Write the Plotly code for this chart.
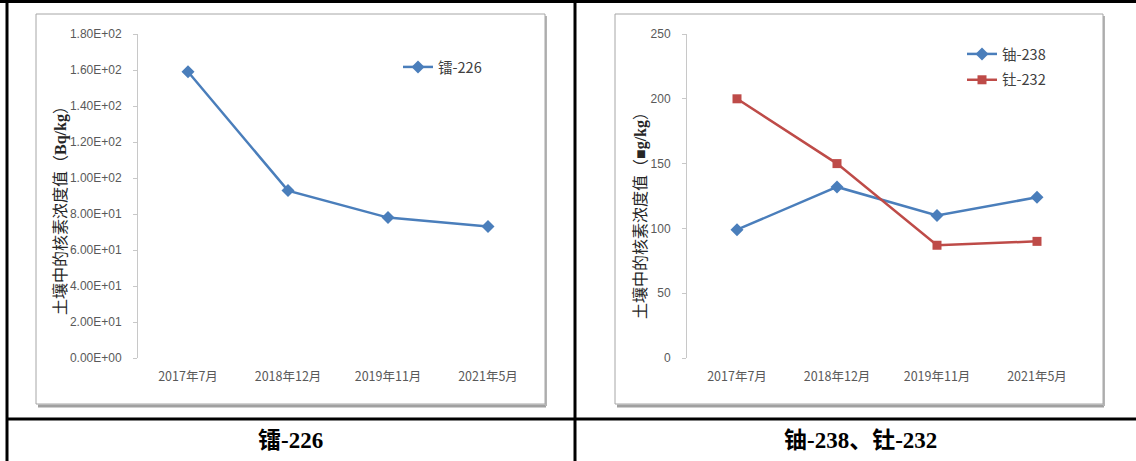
import plotly.graph_objects as go

W, H = 1136, 461

# ---- data ----
categories = ["2017年7月", "2018年12月", "2019年11月", "2021年5月"]
ra226 = [159, 93, 78, 73]
u238 = [99, 132, 110, 124]
th232 = [200, 150, 87, 90]
left_ticks = [0, 20, 40, 60, 80, 100, 120, 140, 160, 180]
left_ticktext = [f"{v:.2E}" for v in left_ticks]
right_ticks = [0, 50, 100, 150, 200, 250]

BLUE = "#4A7EBB"
RED = "#BE4B48"
TICKCOL = "#595959"


def px(x):
    return x / W


def py(y):
    return 1 - y / H


fig = go.Figure()

fig.add_trace(go.Scatter(
    x=categories, y=ra226, name="镭-226", mode="lines+markers", showlegend=True,
    line=dict(color=BLUE, width=2.5),
    marker=dict(symbol="diamond", size=10, color=BLUE),
    xaxis="x", yaxis="y", legend="legend", legendgroup="ra"))

fig.add_trace(go.Scatter(
    x=categories, y=u238, name="铀-238", mode="lines+markers", showlegend=True,
    line=dict(color=BLUE, width=2.5),
    marker=dict(symbol="diamond", size=10, color=BLUE),
    xaxis="x2", yaxis="y2", legend="legend2", legendgroup="u"))

fig.add_trace(go.Scatter(
    x=categories, y=th232, name="钍-232", mode="lines+markers", showlegend=True,
    line=dict(color=RED, width=2.5),
    marker=dict(symbol="square", size=9, color=RED),
    xaxis="x2", yaxis="y2", legend="legend2", legendgroup="th"))

tickfont = dict(family="Liberation Sans, Noto Sans CJK SC", size=12, color=TICKCOL)
xtickfont = dict(family="Noto Sans CJK SC", size=12.5, color=TICKCOL)

yaxis_common = dict(showgrid=False, zeroline=False, showline=True, linecolor="#c8c8c8",
                    linewidth=1, ticks="outside", ticklen=4, tickcolor="#c8c8c8",
                    tickfont=tickfont, ticklabelstandoff=9, fixedrange=True, automargin=False)
xaxis_common = dict(showgrid=False, zeroline=False, showline=False, ticks="",
                    tickfont=xtickfont, type="category", range=[-0.5, 3.5],
                    categoryorder="array", categoryarray=categories, fixedrange=True,
                    automargin=False, ticklabelstandoff=9)

legfont = dict(family="Noto Sans CJK SC", size=14.5, color="#404040")

fig.update_layout(
    width=W, height=H,
    showlegend=True,
    margin=dict(l=0, r=0, t=0, b=0, pad=0, autoexpand=False),
    paper_bgcolor="white", plot_bgcolor="white",
    xaxis=dict(domain=[px(138), px(538)], anchor="y", **xaxis_common),
    yaxis=dict(domain=[py(358), py(34)], anchor="x", range=[0, 180],
               tickvals=left_ticks, ticktext=left_ticktext, **yaxis_common),
    xaxis2=dict(domain=[px(687), px(1087)], anchor="y2", **xaxis_common),
    yaxis2=dict(domain=[py(358), py(34)], anchor="x2", range=[0, 250],
                tickvals=right_ticks, **yaxis_common),
    legend=dict(x=px(398), y=py(67), xanchor="left", yanchor="middle",
                bgcolor="rgba(0,0,0,0)", font=legfont, itemwidth=30),
    legend2=dict(x=px(962), y=py(67), xanchor="left", yanchor="middle",
                 bgcolor="rgba(0,0,0,0)", font=legfont, itemwidth=30, tracegroupgap=4),
)

shapes = []
# chart frames with shadow
for (x0, x1) in [(36, 545), (615, 1103)]:
    shapes.append(dict(type="line", xref="paper", yref="paper", x0=px(x0 + 2), x1=px(x1 + 1),
                       y0=py(406), y1=py(406), line=dict(color="#a0a0a0", width=3)))
    shapes.append(dict(type="line", xref="paper", yref="paper", x0=px(x1 + 1), x1=px(x1 + 1),
                       y0=py(16), y1=py(406), line=dict(color="#b4b4b4", width=2)))
    shapes.append(dict(type="rect", xref="paper", yref="paper", x0=px(x0), x1=px(x1),
                       y0=py(404), y1=py(14), line=dict(color="#a6a6a6", width=1)))

# table lines
black = dict(color="black", width=3)
shapes += [
    dict(type="line", xref="paper", yref="paper", x0=0, x1=1, y0=py(1.5), y1=py(1.5), line=black),
    dict(type="line", xref="paper", yref="paper", x0=px(7), x1=1, y0=py(419), y1=py(419), line=black),
    dict(type="line", xref="paper", yref="paper", x0=px(7), x1=px(7), y0=0, y1=1, line=black),
    dict(type="line", xref="paper", yref="paper", x0=px(575), x1=px(575), y0=0, y1=1, line=black),
]

titlefont = dict(family="Liberation Serif, Noto Sans CJK SC", size=16, color="#262626")
capfont = dict(family="Liberation Serif, Noto Sans CJK SC", size=23, color="black", weight="bold")
annotations = [
    dict(text="土壤中的核素浓度值（<b>Bq/kg</b>）", xref="paper", yref="paper", x=px(60), y=py(207),
         textangle=-90, showarrow=False, font=titlefont, xanchor="center", yanchor="middle"),
    dict(text="土壤中的核素浓度值（<b>■g/kg</b>）", xref="paper", yref="paper", x=px(640), y=py(212),
         textangle=-90, showarrow=False, font=titlefont, xanchor="center", yanchor="middle"),
    dict(text="镭-226", xref="paper", yref="paper", x=px(290), y=py(440), showarrow=False,
         font=capfont, xanchor="center", yanchor="middle"),
    dict(text="铀-238、钍-232", xref="paper", yref="paper", x=px(860), y=py(440), showarrow=False,
         font=capfont, xanchor="center", yanchor="middle"),
]

fig.update_layout(shapes=shapes, annotations=annotations)

post = (
    "document.documentElement.style.margin='0';"
    "document.documentElement.style.padding='0';"
    "document.documentElement.style.overflow='hidden';"
    "document.body.style.margin='0';document.body.style.padding='0';"
    "document.body.style.overflow='hidden';"
    "var gd=document.getElementById('{plot_id}');"
    "gd.style.position='absolute';gd.style.top='0px';gd.style.left='0px';"
)
fig.write_html("out.html", config=dict(displayModeBar=False), post_script=post)
